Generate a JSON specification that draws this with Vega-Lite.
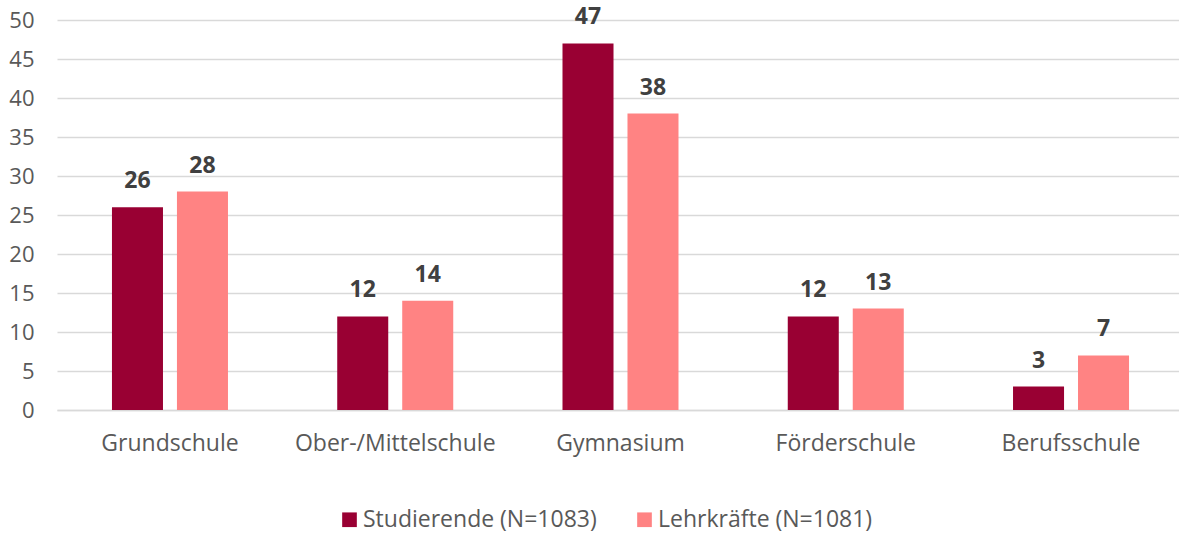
{
  "$schema": "https://vega.github.io/schema/vega-lite/v6.json",
  "width": 1127,
  "height": 390,
  "autosize": {"type": "none"},
  "padding": {"left": 57, "top": 20, "right": 0, "bottom": 123},
  "background": "white",
  "config": {
    "font": "Open Sans",
    "view": {"stroke": null}
  },
  "data": {
    "values": [
      {"schule": "Grundschule", "gruppe": "Studierende (N=1083)", "wert": 26},
      {"schule": "Grundschule", "gruppe": "Lehrkräfte (N=1081)", "wert": 28},
      {"schule": "Ober-/Mittelschule", "gruppe": "Studierende (N=1083)", "wert": 12},
      {"schule": "Ober-/Mittelschule", "gruppe": "Lehrkräfte (N=1081)", "wert": 14},
      {"schule": "Gymnasium", "gruppe": "Studierende (N=1083)", "wert": 47},
      {"schule": "Gymnasium", "gruppe": "Lehrkräfte (N=1081)", "wert": 38},
      {"schule": "Förderschule", "gruppe": "Studierende (N=1083)", "wert": 12},
      {"schule": "Förderschule", "gruppe": "Lehrkräfte (N=1081)", "wert": 13},
      {"schule": "Berufsschule", "gruppe": "Studierende (N=1083)", "wert": 3},
      {"schule": "Berufsschule", "gruppe": "Lehrkräfte (N=1081)", "wert": 7}
    ]
  },
  "encoding": {
    "x": {
      "field": "schule",
      "type": "nominal",
      "sort": null,
      "scale": {"paddingInner": 0.485, "paddingOuter": 0.244},
      "axis": {
        "title": null,
        "labelAngle": 0,
        "labelFontSize": 23,
        "labelColor": "#595959",
        "labelPadding": 22,
        "labelLimit": 400,
        "ticks": false,
        "domain": true,
        "domainColor": "#d9d9d9",
        "domainWidth": 1.5,
        "grid": false
      }
    },
    "xOffset": {
      "field": "gruppe",
      "type": "nominal",
      "sort": ["Studierende (N=1083)", "Lehrkräfte (N=1081)"],
      "scale": {"paddingInner": 0.215, "paddingOuter": 0}
    },
    "y": {
      "field": "wert",
      "type": "quantitative",
      "scale": {"domain": [0, 50], "nice": false},
      "axis": {
        "title": null,
        "values": [0, 5, 10, 15, 20, 25, 30, 35, 40, 45, 50],
        "labelFontSize": 22,
        "labelColor": "#595959",
        "labelPadding": 23,
        "ticks": false,
        "domain": false,
        "gridColor": "#d9d9d9",
        "gridWidth": 1.5
      }
    }
  },
  "layer": [
    {
      "mark": {"type": "bar"},
      "encoding": {
        "color": {
          "field": "gruppe",
          "type": "nominal",
          "sort": ["Studierende (N=1083)", "Lehrkräfte (N=1081)"],
          "scale": {"range": ["#990033", "#FF8383"]},
          "legend": {
            "title": null,
            "orient": "none",
            "direction": "horizontal",
            "legendX": 281,
            "legendY": 488,
            "padding": 0,
            "symbolType": "square",
            "symbolSize": 215,
            "symbolStrokeWidth": 0,
            "labelFontSize": 23,
            "labelColor": "#595959",
            "labelOffset": 2,
            "columnPadding": 36,
            "labelLimit": 400
          }
        }
      }
    },
    {
      "mark": {"type": "text", "fontWeight": "bold", "fontSize": 23, "color": "#404040", "baseline": "alphabetic", "dy": -19},
      "encoding": {
        "text": {"field": "wert", "type": "quantitative"}
      }
    }
  ]
}
